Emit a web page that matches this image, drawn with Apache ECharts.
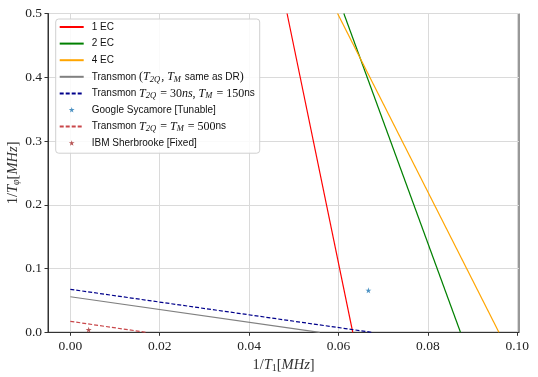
<!DOCTYPE html>
<html><head><meta charset="utf-8">
<script src="https://cdn.jsdelivr.net/npm/echarts@6/dist/echarts.min.js"></script>
<style>html,body{margin:0;padding:0;background:#fff}#c{width:538px;height:377px}</style>
</head><body><div id="c"></div>
<script>
// ---- data ----
const xTicks = [0.00, 0.02, 0.04, 0.06, 0.08, 0.10];
const yTicks = [0.0, 0.1, 0.2, 0.3, 0.4, 0.5];
const ec1 = [[0.0632, 0.0], [0.0485, 0.5]];
const ec2 = [[0.0873, 0.0], [0.0612, 0.5]];
const ec4 = [[0.0959, 0.0], [0.0598, 0.5]];
const transmonDR = [[0.0, 0.0558], [0.0558, 0.0]];
const transmon30_150 = [[0.0, 0.0674], [0.0674, 0.0]];
const transmon500 = [[0.0, 0.0172], [0.0169, 0.0]];
const googleSycamore = [[0.0667, 0.0658]];
const ibmSherbrooke = [[0.0041, 0.0040]];
const names = ['1 EC', '2 EC', '4 EC', 'Transmon DR', 'Transmon 30/150', 'Google Sycamore [Tunable]', 'Transmon 500', 'IBM Sherbrooke [Fixed]'];
const legendLabels = {
  '1 EC': '1 EC',
  '2 EC': '2 EC',
  '4 EC': '4 EC',
  'Transmon DR': 'Transmon {r|(}{m|T}{s|2Q}{r|, }{m|T}{s|M} same as DR{r|)}',
  'Transmon 30/150': 'Transmon {m|T}{s|2Q}{r| = 30}{m|ns}{r|, }{m|T}{s|M}{r| = 150}ns',
  'Google Sycamore [Tunable]': 'Google Sycamore [Tunable]',
  'Transmon 500': 'Transmon {m|T}{s|2Q}{r| = }{m|T}{s|M}{r| = 500}ns',
  'IBM Sherbrooke [Fixed]': 'IBM Sherbrooke [Fixed]'
};

const STAR = 'path://M-50,-50 L-50,-50 M150,150 L150,150 M50,0 L61,35 L98,35 L68,57 L79,91 L50,70 L21,91 L32,57 L2,35 L39,35 Z';
const STAR_S = 'path://M50,0 L61,35 L98,35 L68,57 L79,91 L50,70 L21,91 L32,57 L2,35 L39,35 Z';

const serif = 'Liberation Serif';
const mathRich = {
  m: {fontFamily: serif, fontStyle: 'italic', fontSize: 12, verticalAlign: 'middle', lineHeight: 14},
  s: {fontFamily: serif, fontStyle: 'italic', fontSize: 8.5, verticalAlign: 'bottom', lineHeight: 14, padding: [0, 1, 0, 0]},
  r: {fontFamily: serif, fontSize: 12, verticalAlign: 'middle', lineHeight: 14}
};

function lineSeries(name, data, color, type) {
  return {name, type: 'line', data, symbol: 'none', showSymbol: false, clip: true, animation: false,
    lineStyle: {color, width: 1.2, type: type || 'solid'}, itemStyle: {color}};
}

const chart = echarts.init(document.getElementById('c'), null, {renderer: 'canvas'});
chart.setOption({
  animation: false,
  backgroundColor: '#fff',
  grid: {left: 48, right: 19, top: 13.5, bottom: 44.7, containLabel: false, outerBoundsMode: 'none',
    show: true, borderColor: '#333', borderWidth: 1},
  xAxis: {
    type: 'value', min: -0.005, max: 0.1004,
    name: '{r|1/}{m|T}{s|1}{r|[}{m|MHz}{r|]}', nameLocation: 'middle', nameGap: 25, nameMoveOverlap: false,
    nameTextStyle: {rich: {
      m: {fontFamily: serif, fontStyle: 'italic', fontSize: 14.5, lineHeight: 16},
      s: {fontFamily: serif, fontSize: 10, verticalAlign: 'bottom', lineHeight: 16},
      r: {fontFamily: serif, fontSize: 14.5, lineHeight: 16}}},
    axisLine: {show: true, onZero: false, lineStyle: {color: '#333', width: 1}},
    axisTick: {show: true, inside: false, length: 3.5, customValues: xTicks, lineStyle: {color: '#333'}},
    axisLabel: {customValues: xTicks, formatter: v => v.toFixed(2), fontFamily: serif, fontSize: 13.5, color: '#222', margin: 7},
    splitLine: {show: true, lineStyle: {color: '#dadada', width: 1}}
  },
  yAxis: {
    type: 'value', min: 0, max: 0.5, interval: 0.1,
    name: '{r|1/}{m|T}{s|φ}{r|[}{m|MHz}{r|]}', nameLocation: 'middle', nameGap: 27, nameRotate: 90, nameMoveOverlap: false,
    nameTextStyle: {rich: {
      m: {fontFamily: serif, fontStyle: 'italic', fontSize: 14.5, lineHeight: 16},
      s: {fontFamily: serif, fontStyle: 'italic', fontSize: 10, verticalAlign: 'bottom', lineHeight: 16},
      r: {fontFamily: serif, fontSize: 14.5, lineHeight: 16}}},
    axisLine: {show: true, onZero: false, lineStyle: {color: '#333', width: 1}},
    axisTick: {show: true, inside: false, length: 3.5, lineStyle: {color: '#333'}},
    axisLabel: {formatter: v => v.toFixed(1), fontFamily: serif, fontSize: 13.5, color: '#222', margin: 6},
    splitLine: {show: true, lineStyle: {color: '#dadada', width: 1}}
  },
  legend: {
    orient: 'vertical', left: 55.7, top: 19,
    data: names.map(n => (n.indexOf('Sycamore') >= 0 || n.indexOf('IBM') >= 0)
      ? {name: n, icon: STAR}
      : {name: n, itemStyle: {opacity: 0}}),
    itemWidth: 24, itemHeight: 12, itemGap: 2.6,
    padding: [1, 5, 3, 3],
    backgroundColor: 'rgba(255,255,255,0.85)', borderColor: '#d0d0d0', borderWidth: 1, borderRadius: 3,
    formatter: n => legendLabels[n],
    textStyle: {fontFamily: 'Liberation Sans', fontSize: 10, color: '#111', padding: [0, 0, 0, 3], lineHeight: 14, rich: mathRich}
  },
  series: [
    lineSeries('1 EC', ec1, '#ff0000'),
    lineSeries('2 EC', ec2, '#008000'),
    lineSeries('4 EC', ec4, '#ffa500'),
    lineSeries('Transmon DR', transmonDR, '#808080'),
    lineSeries('Transmon 30/150', transmon30_150, '#00008b', [4, 2]),
    {name: 'Google Sycamore [Tunable]', type: 'scatter', data: googleSycamore, symbol: STAR_S, symbolSize: 6,
      itemStyle: {color: '#1f77b4'}},
    lineSeries('Transmon 500', transmon500, '#c9474a', [4, 2]),
    {name: 'IBM Sherbrooke [Fixed]', type: 'scatter', data: ibmSherbrooke, symbol: STAR_S, symbolSize: 6,
      itemStyle: {color: '#a52a2a'}}
  ]
});
</script></body></html>
